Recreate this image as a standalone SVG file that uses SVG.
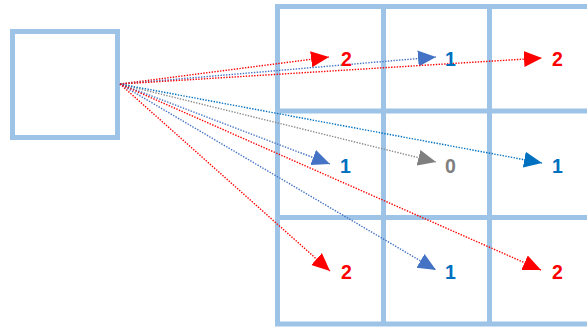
<svg xmlns="http://www.w3.org/2000/svg" width="587" height="329" viewBox="0 0 587 329">
  <style>
    .frame { fill: none; stroke: #9dc3e6; stroke-width: 5; }
    .link { fill: none; stroke-width: 1.4; stroke-dasharray: 1.4 1.4; }
    .red { stroke: #ff0000; }
    .blue { stroke: #4472c4; }
    .dblue { stroke: #0070c0; }
    .gray { stroke: #8c8c8c; }
    .lbl { font-family: "Liberation Sans", Arial, sans-serif; font-weight: bold; font-size: 19.5px; }
  </style>
  <defs>
    <marker id="hRed" viewBox="0 -9 19 18" refX="18" refY="0" markerWidth="19" markerHeight="18" markerUnits="userSpaceOnUse" orient="auto">
      <path d="M0,-8 L18,0 L0,8 z" fill="#ff0000"/>
    </marker>
    <marker id="hBlue" viewBox="0 -9 19 18" refX="18" refY="0" markerWidth="19" markerHeight="18" markerUnits="userSpaceOnUse" orient="auto">
      <path d="M0,-8 L18,0 L0,8 z" fill="#4472c4"/>
    </marker>
    <marker id="hDBlue" viewBox="0 -9 19 18" refX="18" refY="0" markerWidth="19" markerHeight="18" markerUnits="userSpaceOnUse" orient="auto">
      <path d="M0,-8 L18,0 L0,8 z" fill="#0070c0"/>
    </marker>
    <marker id="hGray" viewBox="0 -9 19 18" refX="18" refY="0" markerWidth="19" markerHeight="18" markerUnits="userSpaceOnUse" orient="auto">
      <path d="M0,-8 L18,0 L0,8 z" fill="#7f7f7f"/>
    </marker>
  </defs>

  <rect width="587" height="329" fill="#ffffff"/>

  <!-- source cell -->
  <g id="source">
    <rect class="frame" x="12.5" y="31.5" width="105" height="106"/>
  </g>

  <!-- 3x3 target grid -->
  <g id="grid">
    <rect class="frame" x="277.5" y="6.5" width="318" height="317.5"/>
    <path class="frame" d="M383.5,6.5 V324 M489.5,6.5 V324 M277.5,111 H595.5 M277.5,217.5 H595.5"/>
  </g>

  <!-- dotted connectors from the source corner -->
  <g id="connectors">
    <line class="link red" x1="120" y1="84" x2="329" y2="57" marker-end="url(#hRed)"/>
    <line class="link blue" x1="120" y1="84" x2="436" y2="57" marker-end="url(#hBlue)"/>
    <line class="link red" x1="120" y1="84" x2="542" y2="58" marker-end="url(#hRed)"/>
    <line class="link blue" x1="120" y1="84" x2="330" y2="164" marker-end="url(#hBlue)"/>
    <line class="link gray" x1="120" y1="84" x2="436" y2="162" marker-end="url(#hGray)"/>
    <line class="link dblue" x1="120" y1="84" x2="542" y2="163" marker-end="url(#hDBlue)"/>
    <line class="link red" x1="120" y1="84" x2="330" y2="271" marker-end="url(#hRed)"/>
    <line class="link blue" x1="120" y1="84" x2="436" y2="270" marker-end="url(#hBlue)"/>
    <line class="link red" x1="120" y1="84" x2="541" y2="270" marker-end="url(#hRed)"/>
  </g>

  <!-- cell values -->
  <g id="values" class="lbl">
    <text x="341" y="66" fill="#ff0000">2</text>
    <text x="445" y="66" fill="#0070c0">1</text>
    <text x="552" y="66" fill="#ff0000">2</text>
    <text x="340" y="173" fill="#0070c0">1</text>
    <text x="445" y="173" fill="#7f7f7f">0</text>
    <text x="552" y="173" fill="#0070c0">1</text>
    <text x="341" y="279" fill="#ff0000">2</text>
    <text x="445" y="279" fill="#0070c0">1</text>
    <text x="552" y="279" fill="#ff0000">2</text>
  </g>
</svg>
